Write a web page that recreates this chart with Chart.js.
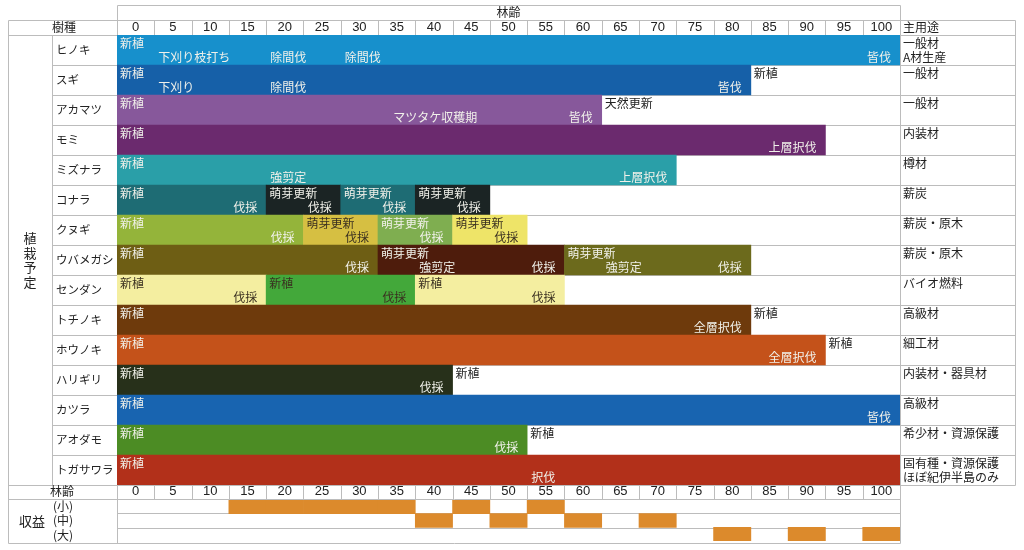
<!DOCTYPE html>
<html>
<head>
<meta charset="utf-8">
<script src="https://cdn.jsdelivr.net/npm/chart.js@4.4.1/dist/chart.umd.min.js"></script>
<style>
    body { margin: 0; background: #fff; }
    #wrap { position: relative; width: 1024px; height: 550px; }
    #main, #revenue { position: absolute; left: 0; }
    #main { top: 0; }
    #revenue { top: 499px; }
</style>
</head>
<body>
<div id="wrap">
    <canvas id="main" width="1024" height="550"></canvas>
    <canvas id="revenue" width="1024" height="43"></canvas>
</div>
<script>
let species = ['ヒノキ', 'スギ', 'アカマツ', 'モミ', 'ミズナラ', 'コナラ', 'クヌギ', 'ウバメガシ',
    'センダン', 'トチノキ', 'ホウノキ', 'ハリギリ', 'カツラ', 'アオダモ', 'トガサワラ']

let mainUses = [
    ['一般材', 'A材生産'], ['一般材'], ['一般材'], ['内装材'], ['樽材'], ['薪炭'], ['薪炭・原木'],
    ['薪炭・原木'], ['バイオ燃料'], ['高級材'], ['細工材'], ['内装材・器具材'], ['高級材'],
    ['希少材・資源保護'], ['固有種・資源保護', 'ほぼ紀伊半島のみ']
]

let ageTicks = [0, 5, 10, 15, 20, 25, 30, 35, 40, 45, 50, 55, 60, 65, 70, 75, 80, 85, 90, 95, 100]

// forest-age boundaries of each growing period, per tree
let phases = [
    [0, 105], [0, 85], [0, 65], [0, 95], [0, 75],
    [0, 20, 30, 40, 50], [0, 25, 35, 45, 55], [0, 35, 60, 85], [0, 20, 40, 60],
    [0, 85], [0, 95], [0, 45], [0, 105], [0, 55], [0, 105]
]

// [tree, age, text, kind]  kind: start = new cycle, mid = work, end = harvest
let events = [
    [0, 0, '新植', 'start'], [0, 5, '下刈り枝打ち', 'mid'], [0, 20, '除間伐', 'mid'], [0, 30, '除間伐', 'mid'], [0, 105, '皆伐', 'end'],
    [1, 0, '新植', 'start'], [1, 5, '下刈り', 'mid'], [1, 20, '除間伐', 'mid'], [1, 85, '皆伐', 'end'], [1, 85, '新植', 'start'],
    [2, 0, '新植', 'start'], [2, 36.5, 'マツタケ収穫期', 'mid'], [2, 65, '皆伐', 'end'], [2, 65, '天然更新', 'start'],
    [3, 0, '新植', 'start'], [3, 95, '上層択伐', 'end'],
    [4, 0, '新植', 'start'], [4, 20, '強剪定', 'mid'], [4, 75, '上層択伐', 'end'],
    [5, 0, '新植', 'start'], [5, 20, '伐採', 'end'], [5, 20, '萌芽更新', 'start'], [5, 30, '伐採', 'end'],
    [5, 30, '萌芽更新', 'start'], [5, 40, '伐採', 'end'], [5, 40, '萌芽更新', 'start'], [5, 50, '伐採', 'end'],
    [6, 0, '新植', 'start'], [6, 25, '伐採', 'end'], [6, 25, '萌芽更新', 'start'], [6, 35, '伐採', 'end'],
    [6, 35, '萌芽更新', 'start'], [6, 45, '伐採', 'end'], [6, 45, '萌芽更新', 'start'], [6, 55, '伐採', 'end'],
    [7, 0, '新植', 'start'], [7, 35, '伐採', 'end'], [7, 35, '萌芽更新', 'start'], [7, 40, '強剪定', 'mid'],
    [7, 60, '伐採', 'end'], [7, 60, '萌芽更新', 'start'], [7, 65, '強剪定', 'mid'], [7, 85, '伐採', 'end'],
    [8, 0, '新植', 'start'], [8, 20, '伐採', 'end'], [8, 20, '新植', 'start'], [8, 40, '伐採', 'end'],
    [8, 40, '新植', 'start'], [8, 60, '伐採', 'end'],
    [9, 0, '新植', 'start'], [9, 85, '全層択伐', 'end'], [9, 85, '新植', 'start'],
    [10, 0, '新植', 'start'], [10, 95, '全層択伐', 'end'], [10, 95, '新植', 'start'],
    [11, 0, '新植', 'start'], [11, 45, '伐採', 'end'], [11, 45, '新植', 'start'],
    [12, 0, '新植', 'start'], [12, 105, '皆伐', 'end'],
    [13, 0, '新植', 'start'], [13, 55, '伐採', 'end'], [13, 55, '新植', 'start'],
    [14, 0, '新植', 'start'], [14, 55, '択伐', 'mid']
]

let revenueTiers = ['(小)', '(中)', '(大)']
// revenue tier for each age column (0 = none, 1 = 小, 2 = 中, 3 = 大)
let revenueByAge = [0, 0, 0, 1, 1, 1, 1, 1, 2, 1, 2, 1, 2, 0, 2, 0, 3, 0, 3, 0, 3]

// styles
let phaseFills = [
    ['#1790cc'], ['#1660a8'], ['#87589b'], ['#6b2a6e'], ['#2a9fa8'],
    ['#1e6c74', '#1b2424', '#1e6c74', '#1b2424'],
    ['#94b43a', '#d6bf42', '#7fae50', '#eee468'],
    ['#6e5e14', '#4e1c0c', '#6c6a1c'],
    ['#f4eea0', '#43a83a', '#f4eea0'],
    ['#6e3a0c'], ['#c4521a'], ['#27301a'], ['#1864b0'], ['#4c8c24'], ['#b2301a']
]
let light = '#f1f1ea'
let dark = '#3a3020'
let phaseInks = [
    [light], [light], [light], [light], [light],
    [light, light, light, light],
    [light, dark, light, dark],
    [light, light, light],
    [dark, dark, dark],
    [light], [light], [light], [light], [light], [light]
]
let revenueFill = '#dc8a2c'
let gridColor = '#bcbcbc'
let jp = '"Noto Sans CJK JP", sans-serif'
let num = '"Liberation Sans", "Noto Sans CJK JP", sans-serif'

function inkAt(row, age) {
    let b = phases[row]
    for (let k = 0; k < b.length - 1; k++) {
        if (age >= b[k] && age < b[k + 1]) return phaseInks[row][k]
    }
    return '#222'
}

function line(ctx, x1, y1, x2, y2) {
    ctx.beginPath()
    ctx.moveTo(Math.round(x1) + 0.5, Math.round(y1) + 0.5)
    ctx.lineTo(Math.round(x2) + 0.5, Math.round(y2) + 0.5)
    ctx.stroke()
}

function text(ctx, str, x, y, font, color, align) {
    ctx.font = font
    ctx.fillStyle = color
    ctx.textAlign = align || 'left'
    ctx.textBaseline = 'middle'
    ctx.fillText(str, x, y)
}

let tablePlugin = {
    id: 'table',
    beforeDatasetsDraw(chart) {
        let ctx = chart.ctx
        let x = chart.scales.x
        let area = chart.chartArea
        let rowH = area.height / species.length
        ctx.save()
        ctx.strokeStyle = gridColor
        ctx.lineWidth = 1
        // age header box
        line(ctx, area.left, 5, area.right, 5)
        line(ctx, area.left, 5, area.left, 20)
        line(ctx, area.right, 5, area.right, 20)
        line(ctx, 8, 20, 1015, 20)
        line(ctx, 8, area.top, 1015, area.top)
        line(ctx, 8, 20, 8, 543)
        line(ctx, area.left, 20, area.left, 543)
        line(ctx, area.right, 20, area.right, 543)
        line(ctx, 1015, 20, 1015, area.bottom)
        line(ctx, 52, area.top, 52, area.bottom)
        for (let i = 1; i < ageTicks.length; i++) {
            let px = x.getPixelForValue(ageTicks[i])
            line(ctx, px, 20, px, area.top)
            line(ctx, px, area.bottom, px, 499)
        }
        for (let i = 1; i < species.length; i++) {
            let y = area.top + rowH * i
            line(ctx, 52, y, 1015, y)
        }
        line(ctx, 8, area.bottom, 1015, area.bottom)
        line(ctx, 8, 499, area.right, 499)
        line(ctx, area.left, 513, area.right, 513)
        line(ctx, area.left, 528, area.right, 528)
        line(ctx, 8, 543, area.right, 543)
        ctx.restore()
    },
    afterDatasetsDraw(chart) {
        let ctx = chart.ctx
        let x = chart.scales.x
        let yScale = chart.scales.y
        let area = chart.chartArea
        let rowH = area.height / species.length
        ctx.save()
        text(ctx, '林齢', (area.left + area.right) / 2, 12.5, '12px ' + jp, '#222', 'center')
        text(ctx, '樹種', 64, 27.5, '12px ' + jp, '#222', 'center')
        text(ctx, '主用途', 903, 27.5, '12px ' + jp, '#222')
        ageTicks.forEach(a => {
            text(ctx, String(a), x.getPixelForValue(a + 2.5), 27.5, '13px ' + num, '#222', 'center')
            text(ctx, String(a), x.getPixelForValue(a + 2.5), 491.5, '13px ' + num, '#222', 'center')
        })
        species.forEach((name, i) => {
            let cy = yScale.getPixelForValue(i)
            let top = cy - rowH / 2
            text(ctx, name, 56, cy, '11.5px ' + jp, '#222')
            mainUses[i].forEach((u, j) => {
                text(ctx, u, 903, top + 8 + j * 14, '12px ' + jp, '#222')
            })
        })
        let plan = ['植', '栽', '予', '定']
        let mid = (area.top + area.bottom) / 2
        plan.forEach((c, i) => {
            text(ctx, c, 30, mid + (i - 1.5) * 14.5, '13px ' + jp, '#222', 'center')
        })
        text(ctx, '林齢', 62, 491.5, '12px ' + jp, '#222', 'center')
        text(ctx, '収益', 32, 521, '13px ' + jp, '#222', 'center')
        revenueTiers.forEach((t, i) => {
            text(ctx, t, 53, 506 + i * 14.5, '12px ' + jp, '#222')
        })
        events.forEach(([row, age, str, kind]) => {
            let top = yScale.getPixelForValue(row) - rowH / 2
            let px = x.getPixelForValue(age)
            if (kind === 'start') {
                text(ctx, str, px + 3, top + 8, '12px ' + jp, inkAt(row, age + 0.1))
            } else if (kind === 'mid') {
                text(ctx, str, px + 4, top + 22, '12px ' + jp, inkAt(row, age + 0.1))
            } else {
                text(ctx, str, px - 9, top + 22, '12px ' + jp, inkAt(row, age - 0.1), 'right')
            }
        })
        ctx.restore()
    }
}

let segData = []
let segFill = []
phases.forEach((b, row) => {
    for (let k = 0; k < b.length - 1; k++) {
        segData.push({ y: species[row], x: [b[k], b[k + 1]] })
        segFill.push(phaseFills[row][k])
    }
})

let revData = []
revenueByAge.forEach((tier, i) => {
    if (tier > 0) revData.push({ y: revenueTiers[tier - 1], x: [ageTicks[i], ageTicks[i] + 5] })
})

let sharedX = { type: 'linear', min: 0, max: 105, display: false }

window.addEventListener('load', () => {
    new Chart(document.getElementById('main'), {
        type: 'bar',
        data: {
            labels: species,
            datasets: [{
                data: segData,
                backgroundColor: segFill,
                borderWidth: 0,
                barPercentage: 1,
                categoryPercentage: 1
            }]
        },
        options: {
            indexAxis: 'y',
            responsive: false,
            animation: false,
            layout: { padding: { left: 117, right: 124, top: 35, bottom: 65 } },
            scales: { x: sharedX, y: { type: 'category', display: false } },
            plugins: { legend: { display: false }, tooltip: { enabled: false } }
        },
        plugins: [tablePlugin]
    })

    new Chart(document.getElementById('revenue'), {
        type: 'bar',
        data: {
            labels: revenueTiers,
            datasets: [{
                data: revData,
                backgroundColor: revenueFill,
                borderWidth: 0,
                barPercentage: 1,
                categoryPercentage: 1
            }]
        },
        options: {
            indexAxis: 'y',
            responsive: false,
            animation: false,
            layout: { padding: { left: 117, right: 124, top: 1, bottom: 1 } },
            scales: { x: sharedX, y: { type: 'category', display: false } },
            plugins: { legend: { display: false }, tooltip: { enabled: false } }
        }
    })
})
</script>
</body>
</html>
